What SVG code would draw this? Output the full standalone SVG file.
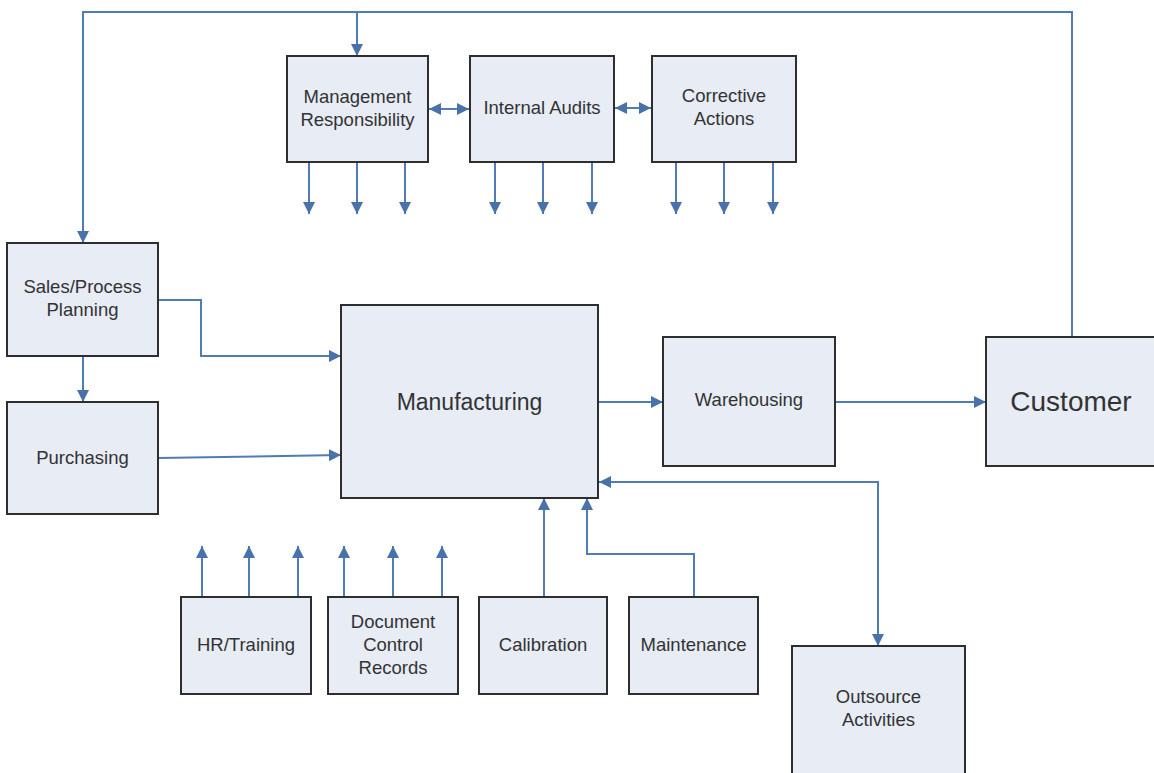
<svg xmlns="http://www.w3.org/2000/svg" width="1154" height="773" viewBox="0 0 1154 773">
  <style>
    .box { fill: #e7ecf5; stroke: #2e2e2e; stroke-width: 2; }
    .lbl { font-family: "Liberation Sans", Arial, sans-serif; font-size: 18.5px; fill: #333333; text-anchor: middle; }
    .conn { fill: none; stroke: #4f7bb6; stroke-width: 2; }
    .arr { marker-end: url(#head); }
    .both { marker-start: url(#head); marker-end: url(#head); }
  </style>
  <defs>
    <marker id="head" markerUnits="userSpaceOnUse" markerWidth="12" markerHeight="12" refX="12" refY="6" orient="auto-start-reverse">
      <path d="M0,0 L12,6 L0,12 z" fill="#4a72aa"/>
    </marker>
  </defs>
  <rect width="1154" height="773" fill="#ffffff"/>

  <!-- connectors -->
  <g id="connectors">
    <!-- customer feedback loop across the top -->
    <polyline class="conn" points="1072,338 1072,12 83,12 83,243" marker-end="url(#head)"/>
    <line class="conn arr" x1="357" y1="12" x2="357" y2="56"/>
    <!-- audit loop -->
    <line class="conn both" x1="429" y1="109" x2="469" y2="109"/>
    <line class="conn both" x1="615" y1="108" x2="651" y2="108"/>
    <!-- outputs of management, audits, corrective actions -->
    <line class="conn arr" x1="309" y1="162" x2="309" y2="214"/>
    <line class="conn arr" x1="357" y1="162" x2="357" y2="214"/>
    <line class="conn arr" x1="405" y1="162" x2="405" y2="214"/>
    <line class="conn arr" x1="495" y1="162" x2="495" y2="214"/>
    <line class="conn arr" x1="543" y1="162" x2="543" y2="214"/>
    <line class="conn arr" x1="592" y1="162" x2="592" y2="214"/>
    <line class="conn arr" x1="676" y1="162" x2="676" y2="214"/>
    <line class="conn arr" x1="724" y1="162" x2="724" y2="214"/>
    <line class="conn arr" x1="773" y1="162" x2="773" y2="214"/>
    <!-- planning and purchasing into manufacturing -->
    <line class="conn arr" x1="83" y1="356" x2="83" y2="402"/>
    <polyline class="conn arr" points="158,300 201,300 201,356 341,356"/>
    <line class="conn arr" x1="158" y1="458" x2="341" y2="455"/>
    <!-- main flow -->
    <line class="conn arr" x1="598" y1="402" x2="663" y2="402"/>
    <line class="conn arr" x1="835" y1="402" x2="986" y2="402"/>
    <!-- outsourcing -->
    <polyline class="conn both" points="599,482 878,482 878,646"/>
    <!-- support processes -->
    <line class="conn arr" x1="544" y1="597" x2="544" y2="498"/>
    <polyline class="conn arr" points="694,597 694,554 587,554 587,498"/>
    <line class="conn arr" x1="202" y1="597" x2="202" y2="546"/>
    <line class="conn arr" x1="249" y1="597" x2="249" y2="546"/>
    <line class="conn arr" x1="298" y1="597" x2="298" y2="546"/>
    <line class="conn arr" x1="344" y1="597" x2="344" y2="546"/>
    <line class="conn arr" x1="393" y1="597" x2="393" y2="546"/>
    <line class="conn arr" x1="442" y1="597" x2="442" y2="546"/>
  </g>

  <g id="management">
    <rect class="box" x="287" y="56" width="141" height="106"/>
    <text class="lbl" x="357.5" y="103">Management</text>
    <text class="lbl" x="357.5" y="126">Responsibility</text>
  </g>
  <g id="internal-audits">
    <rect class="box" x="470" y="56" width="144" height="106"/>
    <text class="lbl" x="542" y="114">Internal Audits</text>
  </g>
  <g id="corrective-actions">
    <rect class="box" x="652" y="56" width="144" height="106"/>
    <text class="lbl" x="724" y="102">Corrective</text>
    <text class="lbl" x="724" y="125">Actions</text>
  </g>
  <g id="sales">
    <rect class="box" x="7" y="243" width="151" height="113"/>
    <text class="lbl" x="82.5" y="293">Sales/Process</text>
    <text class="lbl" x="82.5" y="316">Planning</text>
  </g>
  <g id="purchasing">
    <rect class="box" x="7" y="402" width="151" height="112"/>
    <text class="lbl" x="82.5" y="464">Purchasing</text>
  </g>
  <g id="manufacturing">
    <rect class="box" x="341" y="305" width="257" height="193"/>
    <text class="lbl" x="469.5" y="410" style="font-size:23px">Manufacturing</text>
  </g>
  <g id="warehousing">
    <rect class="box" x="663" y="337" width="172" height="129"/>
    <text class="lbl" x="749" y="406">Warehousing</text>
  </g>
  <g id="customer">
    <rect class="box" x="986" y="337" width="180" height="129"/>
    <text class="lbl" x="1071" y="411" style="font-size:28px">Customer</text>
  </g>
  <g id="hr-training">
    <rect class="box" x="181" y="597" width="130" height="97"/>
    <text class="lbl" x="246" y="651">HR/Training</text>
  </g>
  <g id="document-control">
    <rect class="box" x="328" y="597" width="130" height="97"/>
    <text class="lbl" x="393" y="628">Document</text>
    <text class="lbl" x="393" y="651">Control</text>
    <text class="lbl" x="393" y="674">Records</text>
  </g>
  <g id="calibration">
    <rect class="box" x="479" y="597" width="128" height="97"/>
    <text class="lbl" x="543" y="651">Calibration</text>
  </g>
  <g id="maintenance">
    <rect class="box" x="629" y="597" width="129" height="97"/>
    <text class="lbl" x="693.5" y="651">Maintenance</text>
  </g>
  <g id="outsource">
    <rect class="box" x="792" y="646" width="173" height="140"/>
    <text class="lbl" x="878.5" y="703">Outsource</text>
    <text class="lbl" x="878.5" y="726">Activities</text>
  </g>
</svg>
